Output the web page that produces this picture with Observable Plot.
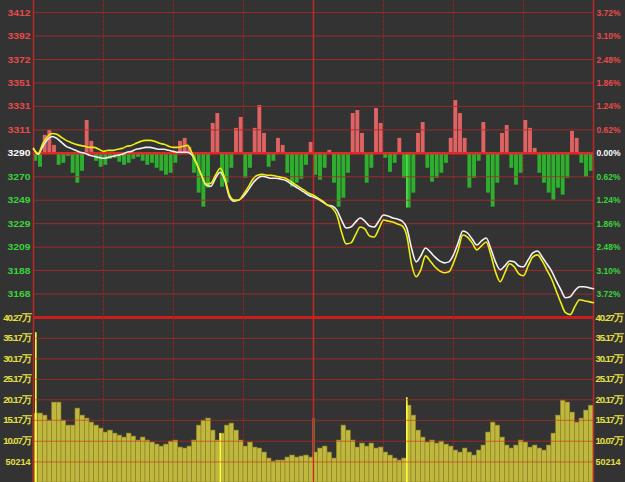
<!DOCTYPE html>
<html><head><meta charset="utf-8">
<script src="https://cdn.jsdelivr.net/npm/d3@7"></script>
<script src="https://cdn.jsdelivr.net/npm/@observablehq/plot@0.6"></script>
<style>
html,body{margin:0;padding:0;background:#333333;}
#chart{position:relative;width:625px;height:482px;background:#333333;overflow:hidden;}
#chart svg{position:absolute;left:0;}
</style></head><body><div id="chart"></div>
<script>
// ---- data ----
const baseClose = 3290.2;
const priceLabels = ["3412","3392","3372","3351","3331","3311","3290","3270","3249","3229","3209","3188","3168"];
const pctLabels = ["3.72%","3.10%","2.48%","1.86%","1.24%","0.62%","0.00%","0.62%","1.24%","1.86%","2.48%","3.10%","3.72%"];
const pctLevels = [3.72,3.10,2.48,1.86,1.24,0.62,0,-0.62,-1.24,-1.86,-2.48,-3.10,-3.72];
const pctBottom = -4.34;
const timeTicks = [0,30,60,90,120,150,180,210,240];

// index (white) and leading index (yellow), every 2 minutes
const whiteLine = [3294.5,3289.3,3296.3,3302.3,3304.9,3303.2,3299.7,3296.3,3294.5,3292.8,
 3291.1,3290.2,3288.5,3287.6,3286.7,3285.9,3286.7,3287.6,3288.5,3289.3,
 3291.1,3291.9,3293.7,3294.5,3295.4,3295.4,3294.5,3293.7,3293.7,3292.8,
 3291.9,3291.1,3291.1,3291.1,3288.5,3280.7,3271.1,3262.5,3261.6,3268.5,
 3273.7,3266.8,3252.1,3248.6,3249.5,3252.9,3258.2,3264.2,3268.5,3270.3,
 3269.4,3268.5,3268.5,3267.7,3266.8,3264.2,3261.6,3259.0,3256.4,3253.8,
 3252.1,3250.4,3247.8,3245.2,3244.3,3240.8,3232.2,3225.3,3226.1,3230.4,
 3233.9,3231.3,3227.0,3226.1,3231.3,3236.5,3235.6,3233.9,3233.0,3231.3,
 3225.3,3207.9,3195.8,3201.0,3207.9,3204.5,3200.1,3196.6,3194.9,3195.8,
 3201.9,3212.3,3222.7,3220.9,3215.7,3210.5,3214.0,3216.6,3207.1,3195.8,
 3188.9,3192.3,3196.6,3195.8,3192.3,3191.5,3197.5,3203.6,3205.3,3200.1,
 3194.1,3188.0,3179.4,3171.6,3164.6,3165.5,3170.7,3174.2,3174.2,3173.3,
 3172.4];
const yellowLine = [3293.7,3290.2,3298.9,3304.9,3307.5,3306.7,3304.1,3301.5,3299.7,3298.0,
 3297.1,3296.3,3295.4,3295.4,3293.7,3291.9,3292.8,3292.8,3293.7,3294.5,
 3296.3,3297.1,3298.9,3300.6,3301.5,3301.5,3300.6,3298.9,3298.0,3296.3,
 3295.4,3295.4,3296.3,3297.1,3290.2,3280.7,3271.1,3263.4,3264.2,3271.1,
 3277.2,3268.5,3253.8,3249.5,3249.5,3254.7,3260.8,3267.7,3271.1,3271.9,
 3271.1,3271.1,3270.3,3269.4,3268.5,3266.0,3263.4,3260.8,3258.2,3255.5,
 3253.8,3251.2,3248.6,3245.2,3242.6,3236.5,3221.8,3211.4,3212.3,3219.2,
 3226.1,3224.4,3218.3,3217.4,3224.4,3232.2,3231.3,3230.4,3228.7,3227.0,
 3218.3,3194.1,3182.8,3188.9,3201.0,3196.6,3191.5,3188.0,3186.3,3187.1,
 3194.9,3206.2,3219.2,3217.4,3212.3,3206.2,3209.7,3213.1,3201.9,3187.1,
 3178.5,3186.3,3194.1,3191.5,3185.4,3183.7,3192.3,3200.1,3201.9,3196.6,
 3188.9,3181.1,3170.7,3160.3,3151.6,3149.9,3156.8,3162.9,3162.0,3161.2,
 3160.3];

// up/down strength bars (index points), one per 2-minute slot
const breadth = [-6.9,-12.1,15.6,19.9,6.9,-10.4,-8.7,-2.6,-17.3,-26.0,
 -15.6,28.6,10.4,-6.9,-12.1,-10.4,-5.2,-4.3,-7.8,-10.4,
 -8.7,-5.2,-3.5,-6.9,-10.4,-8.7,-13.0,-15.6,-19.1,-17.3,
 -8.7,10.4,13.0,5.2,-17.3,-34.6,-46.8,-30.3,26.0,34.6,
 -29.4,-26.0,-13.0,21.7,31.2,-21.7,-13.0,21.7,41.6,17.3,
 -12.1,-6.9,13.0,6.9,-17.3,-29.4,-26.0,-22.5,-10.4,9.5,
 -19.1,-23.4,-13.0,2.6,-26.0,-46.8,-39.0,-17.3,34.6,37.2,
 17.3,-26.0,-13.0,39.0,26.0,-4.3,-16.5,-8.7,13.0,-21.7,
 -47.6,-34.6,17.3,26.8,-13.0,-25.1,-21.7,-17.3,-8.7,13.0,
 45.9,34.6,13.0,-30.3,-21.7,-6.9,26.8,-34.6,-46.8,-26.0,
 17.3,24.2,-13.0,-27.7,-17.3,28.6,21.7,4.3,-17.3,-26.0,
 -34.6,-40.7,-30.3,-36.4,-21.7,19.1,13.0,-8.7,-20.8,-15.6];
const breadthSpikeMinute = [160];
const breadthSpikeValue = [-47.6];

// volume, one per 2-minute slot
const volume = [168200,168200,163300,151100,195000,195000,151100,138900,138900,180300,
 163300,156000,146200,138900,131600,121900,126700,119400,114500,109700,
 119400,112100,102400,109700,102400,97500,92600,87700,92600,99900,
 102400,85300,82900,87700,102400,138900,151100,156000,126700,102400,
 119400,138900,143800,126700,102400,87700,97500,85300,82900,73100,
 58500,51200,53600,53600,60900,65800,60900,63400,65800,60900,
 73100,82900,87700,73100,58500,102400,138900,126700,102400,85300,
 95000,87700,95000,82900,85300,73100,65800,58500,53600,58500,
 187600,163300,126700,109700,97500,102400,95000,99900,92600,87700,
 78000,73100,82900,73100,65800,78000,90200,121900,146200,138900,
 109700,90200,82900,90200,102400,97500,85300,90200,82900,78000,
 90200,119400,163300,199800,195000,170600,146200,156000,175500,187600];
const spikeMinutes = [1,80,120,160];
const spikeVolumes = [365600,119400,156000,207100];
const volLabels = ["40.27万","35.17万","30.17万","25.17万","20.17万","15.17万","10.07万","50214"];
const volLevels = [402700,351700,301700,251700,201700,151700,100700,50214];

// ---- styling ----
const RED = "#e84a4a", GREEN = "#3cd23c", WHITE = "#ffffff", YELLOW = "#e6e040";
const FONT = "Liberation Sans, Arial, sans-serif";
const FS = 9.5;
const toPct = v => (v - baseClose) / baseClose * 100;

const lineData = whiteLine.map((w, i) => ({m: i * 2, w: toPct(w), yl: toPct(yellowLine[i])}));
const barData = breadth.map((b, k) => ({m1: 2 * k, m2: 2 * k + 2, v: b / baseClose * 100}));
const labelData = pctLevels.map((p, i) => ({p, left: priceLabels[i], right: pctLabels[i],
  c: p > 0 ? RED : p < 0 ? GREEN : WHITE}));

const labelMarks = [];
for (const c of [RED, GREEN, WHITE]) {
  const sub = labelData.filter(d => d.c === c);
  labelMarks.push(Plot.text(sub, {y: "p", text: "left", frameAnchor: "left", dx: -3, textAnchor: "end",
    fill: c, fontSize: FS, fontWeight: "bold", fontFamily: FONT}));
  labelMarks.push(Plot.text(sub, {y: "p", text: "right", frameAnchor: "right", dx: 3, textAnchor: "start",
    fill: c, fontSize: FS, fontWeight: "bold", fontFamily: FONT}));
}

const GRIDV = {stroke: "#8e2222", strokeDasharray: "3,1"};

const topPlot = Plot.plot({
  width: 625, height: 320, marginLeft: 33, marginRight: 32, marginTop: 0, marginBottom: 3,
  x: {domain: [0, 240], axis: null},
  y: {domain: [pctBottom, 4.04], axis: null},
  style: {background: "transparent", overflow: "visible", fontFamily: FONT},
  marks: [
    Plot.ruleX(timeTicks.slice(1, -1), GRIDV),
    Plot.rectY(barData.filter(d => d.v > 0), {x1: "m1", x2: "m2", y1: 0, y2: "v", fill: "#e06262", insetLeft: 0.4, insetRight: 0.4}),
    Plot.rectY(barData.filter(d => d.v < 0), {x1: "m1", x2: "m2", y1: 0, y2: "v", fill: "#2eb02e", insetLeft: 0.4, insetRight: 0.4}),
    Plot.ruleX(breadthSpikeMinute, {x: d => d, y1: 0, y2: (d, i) => breadthSpikeValue[i] / baseClose * 100, stroke: "#5cff5c", strokeWidth: 1.2}),
    Plot.ruleY(pctLevels.filter(p => p !== 0), {stroke: "#b02828", strokeOpacity: 0.85}),
    Plot.ruleX([120], {stroke: "#c42828", strokeWidth: 1.5}),
    Plot.ruleX([0, 240], {stroke: "#b82828", strokeWidth: 1.5}),
    Plot.ruleY([0], {stroke: "#e02828", strokeWidth: 2.5}),
    Plot.ruleY([pctBottom], {stroke: "#c81e1e", strokeWidth: 3}),
    Plot.line(lineData, {x: "m", y: "w", stroke: "#f2f2f2", strokeWidth: 1.6, curve: "monotone-x"}),
    Plot.line(lineData, {x: "m", y: "yl", stroke: "#f0ee10", strokeWidth: 1.6, curve: "monotone-x"}),
    ...labelMarks
  ]
});
topPlot.style.top = "0px";

const volData = volume.map((v, k) => ({m1: 2 * k, m2: 2 * k + 2, v}));
const volLabelData = volLevels.map((v, i) => ({v, t: volLabels[i]}));
const bottomPlot = Plot.plot({
  width: 625, height: 175, marginLeft: 33, marginRight: 32, marginTop: 10, marginBottom: 0,
  x: {domain: [0, 240], axis: null},
  y: {domain: [0, 402700], axis: null},
  style: {background: "transparent", overflow: "visible", fontFamily: FONT},
  marks: [
    Plot.ruleX(timeTicks.slice(1, -1), GRIDV),
    Plot.rectY(volData, {x1: "m1", x2: "m2", y1: 0, y2: "v", fill: "#bfb73e", stroke: "#8a8426", strokeWidth: 0.6}),
    Plot.ruleX(spikeMinutes, {x: d => d, y1: 0, y2: (d, i) => spikeVolumes[i], stroke: "#ffff3a", strokeWidth: 1.6}),
    Plot.ruleY(volLevels.slice(1), {stroke: "#d42a1a", strokeOpacity: 0.6}),
    Plot.ruleX([120], {stroke: "#c42828", strokeWidth: 1.5}),
    Plot.ruleX([0, 240], {stroke: "#b82828", strokeWidth: 1.5}),
    Plot.text(volLabelData, {y: "v", text: "t", frameAnchor: "left", dx: -3, textAnchor: "end",
      fill: YELLOW, fontSize: FS, fontWeight: "bold", fontFamily: FONT}),
    Plot.text(volLabelData, {y: "v", text: "t", frameAnchor: "right", dx: 2, textAnchor: "start",
      fill: YELLOW, fontSize: FS, fontWeight: "bold", fontFamily: FONT})
  ]
});
bottomPlot.style.top = "307px";

const chart = document.getElementById("chart");
chart.appendChild(topPlot);
chart.appendChild(bottomPlot);

// condense label widths to the narrow bitmap-style font of the original
function fit(svg) {
  d3.select(svg).selectAll("text").each(function () {
    const t = this.textContent;
    if (t.includes("万")) { this.style.letterSpacing = "-1.1px"; return; }
    let w = null;
    if (t.includes("%")) w = 24;
    else if (t.length === 5) w = 25;
    else if (t.length === 4) w = 23;
    if (w) { this.setAttribute("textLength", w); this.setAttribute("lengthAdjust", "spacingAndGlyphs"); }
  });
}
fit(topPlot); fit(bottomPlot);
</script></body></html>
